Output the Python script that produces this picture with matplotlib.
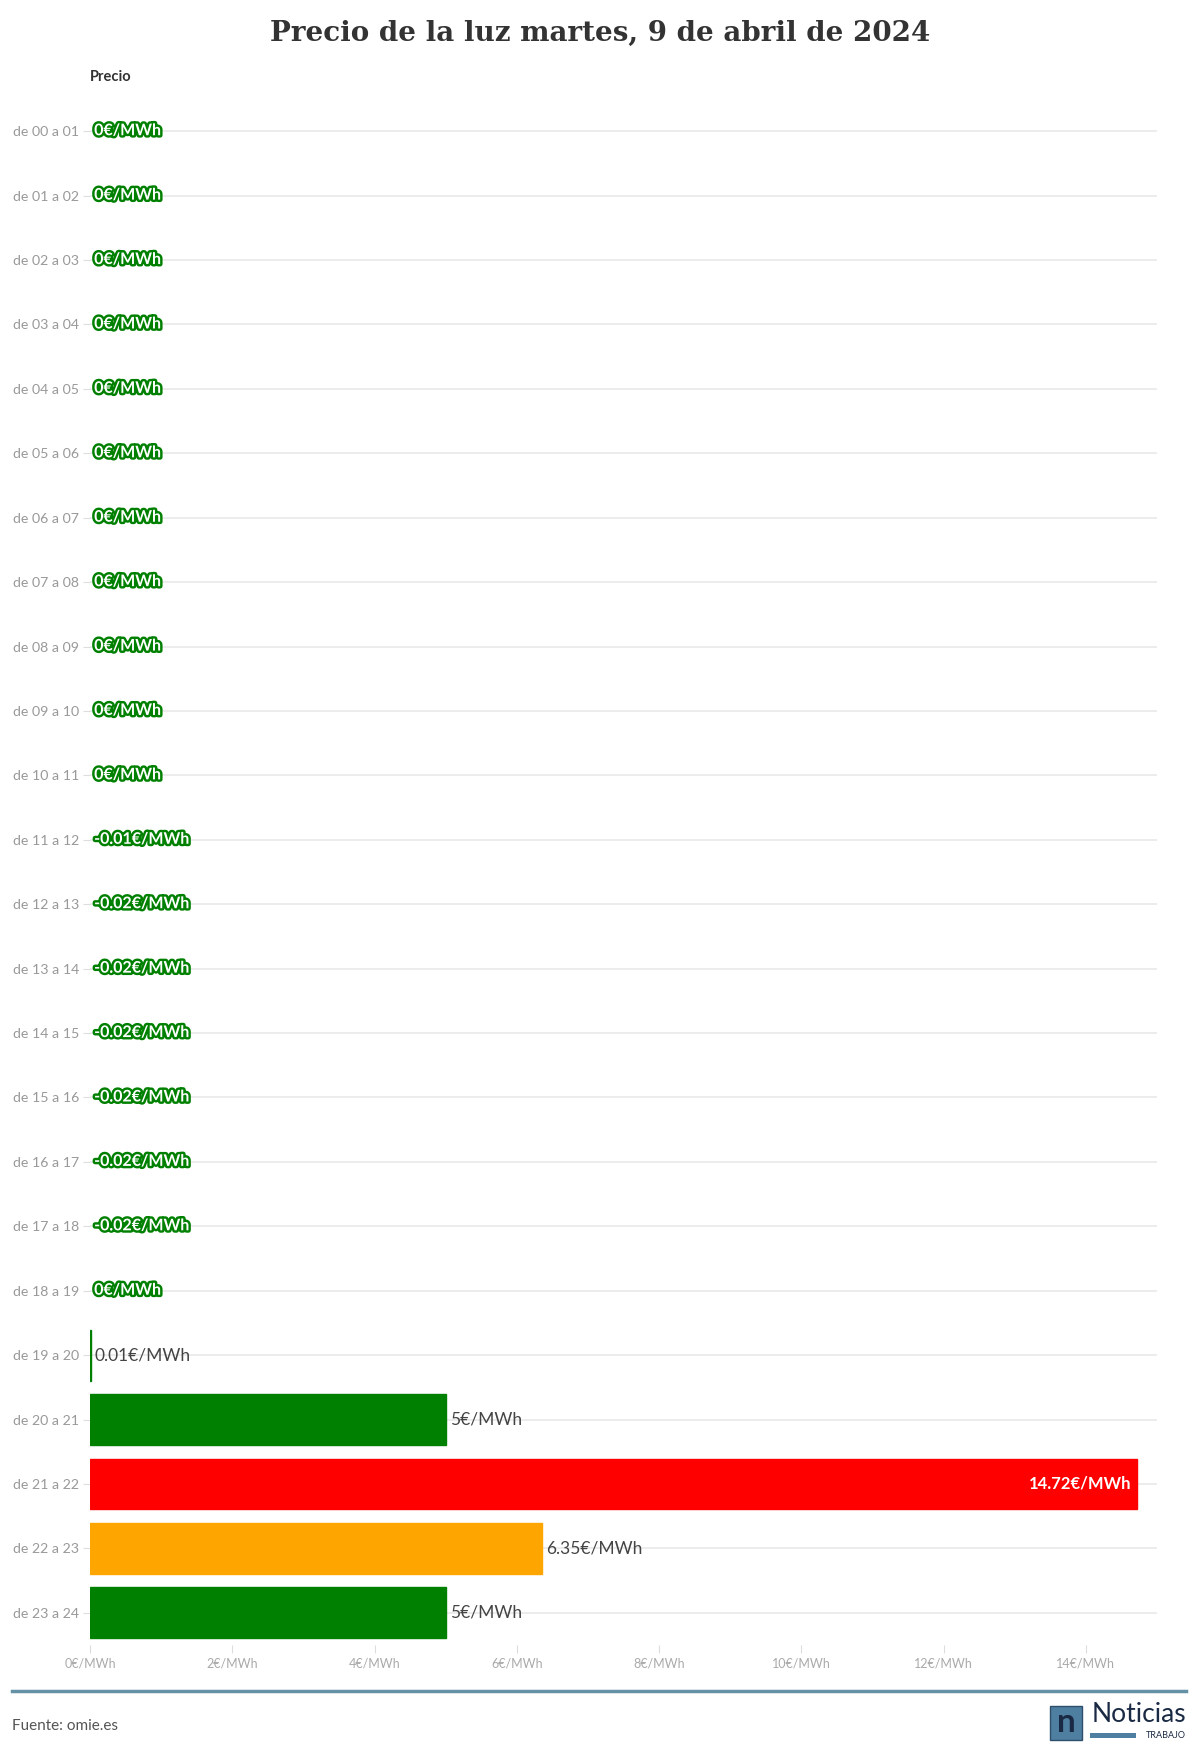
import matplotlib.pyplot as plt
import matplotlib.patheffects as pe
from matplotlib.patches import Rectangle
from matplotlib.lines import Line2D

# datos: precio por hora (€/MWh)
horas = ["de %02d a %02d" % (h, h + 1) for h in range(24)]
precios = [0, 0, 0, 0, 0, 0, 0, 0, 0, 0, 0,
           -0.01, -0.02, -0.02, -0.02, -0.02, -0.02, -0.02,
           0, 0.01, 5, 14.72, 6.35, 5]
ticks_x = [0, 2, 4, 6, 8, 10, 12, 14]

titulo = "Precio de la luz martes, 9 de abril de 2024"
fuente = "Fuente: omie.es"

VERDE = "#008000"
NARANJA = "#ffa500"
ROJO = "#ff0000"


def color_precio(v):
    if v > 10:
        return ROJO
    if v > 5.5:
        return NARANJA
    return VERDE


def etiqueta(v):
    return "%g€/MWh" % v


plt.rcParams['font.family'] = ['Lato', 'DejaVu Sans']

fig = plt.figure(figsize=(12, 17.59), dpi=100)
W, H = 1200, 1759
ax = fig.add_axes([90 / W, 1 - 1645 / H, (1157 - 90) / W, (1645 - 99) / H])

y = list(range(len(horas)))
colores = [color_precio(v) for v in precios]
bordes = [c if v > 0 else "none" for v, c in zip(precios, colores)]
ax.barh(y, precios, height=0.79, color=colores, edgecolor=bordes,
        linewidth=1, zorder=2)

for i, v in enumerate(precios):
    ax.axhline(i, color="#ebebeb", linewidth=1.3, zorder=1)
    if v <= 0:
        ax.annotate(etiqueta(v), (0, i), xytext=(3, 0), textcoords="offset points",
                    ha="left", va="center", fontsize=11.5, fontweight="bold",
                    color="white", zorder=4,
                    path_effects=[pe.withStroke(linewidth=3.5, foreground=VERDE)])
    elif v > 10:
        ax.annotate(etiqueta(v), (v, i), xytext=(-4, 0), textcoords="offset points",
                    ha="right", va="center", fontsize=12, fontweight="bold",
                    color="white", zorder=4)
    else:
        ax.annotate(etiqueta(v), (v, i), xytext=(3, 0), textcoords="offset points",
                    ha="left", va="center", fontsize=12.5, color="#444444", zorder=4)

ax.set_xlim(0, 15)
ax.set_ylim(len(horas) - 0.5, -0.5)
ax.set_yticks(y)
ax.set_yticklabels(horas)
ax.set_xticks(ticks_x)
ax.set_xticklabels([etiqueta(t) for t in ticks_x])
ax.tick_params(axis="y", colors="#dddddd", labelcolor="#999999", labelsize=10.2,
               length=5, pad=3)
ax.tick_params(axis="x", colors="#dddddd", labelcolor="#aaaaaa", labelsize=9,
               length=6, pad=3)
for s in ax.spines.values():
    s.set_visible(False)

fig.text(0.5, 1 - 33 / H, titulo, ha="center", va="center", fontsize=20,
         fontweight="bold", family="DejaVu Serif", color="#333333")
fig.text(90 / W, 1 - 77 / H, "Precio", ha="left", va="center", fontsize=10.5,
         fontweight="bold", color="#333333")

# pie: línea, fuente y logo
fig.add_artist(Line2D([12 / W, 1186 / W], [1 - 1691 / H] * 2, color="#6591a6",
                      linewidth=2.5))
fig.text(12 / W, 1 - 1726 / H, fuente, ha="left", va="center", fontsize=11,
         color="#555555")
fig.add_artist(Rectangle((1050 / W, 1 - 1740 / H), 32 / W, 34 / H,
                         facecolor="#4f7fa0", edgecolor="#2e4f6b", linewidth=1))
fig.text(1066 / W, 1 - 1723 / H, "n", ha="center", va="center", fontsize=24,
         fontweight="bold", color="#1b2a44")
fig.text(1186 / W, 1 - 1714 / H, "Noticias", ha="right", va="center",
         fontsize=19, color="#1b2a44")
fig.add_artist(Rectangle((1090 / W, 1 - 1738 / H), 46 / W, 5 / H,
                         facecolor="#4f7fa0", edgecolor="none"))
fig.text(1186 / W, 1 - 1736 / H, "TRABAJO", ha="right", va="center",
         fontsize=6.5, color="#1b2a44")

fig.savefig("out.png", dpi=100)
